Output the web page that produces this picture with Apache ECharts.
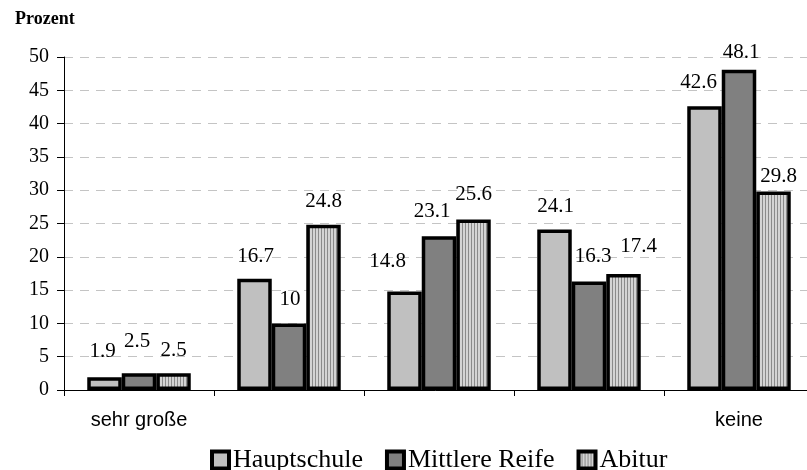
<!DOCTYPE html>
<html>
<head>
    <meta charset="utf-8">
    <title>Prozent</title>
    <script src="https://cdn.jsdelivr.net/npm/echarts@6.0.0/dist/echarts.min.js"></script>
    <style>
        html, body { margin: 0; padding: 0; background: #fff; }
        #chart { width: 807px; height: 470px; }
    </style>
</head>
<body>
<div id="chart"></div>
<script>
    // Daten
    const categories = ['sehr große', '', '', '', 'keine'];
    const seriesNames = ['Hauptschule', 'Mittlere Reife', 'Abitur'];
    const hauptschule = [1.9, 16.7, 14.8, 24.1, 42.6];
    const mittlereReife = [2.5, 10, 23.1, 16.3, 48.1];
    const abitur = [2.5, 24.8, 25.6, 17.4, 29.8];
    const yMin = 0, yMax = 50, yStep = 5;

    // Label-Verschiebungen wie im Original (Pixel)
    const labelShift = [
        [[-2, -1], [1, 2], [-17, -5], [1, 1], [-6, 1]],
        [[-2, -7], [1, 1], [-7, 0], [4, 0], [2, 7]],
        [[0, 2], [0, 1], [0, -1], [15, -3], [5, 9]]
    ];

    // Streifenmuster fuer Abitur
    const stripe = document.createElement('canvas');
    stripe.width = 3; stripe.height = 4;
    const ctx = stripe.getContext('2d');
    ctx.fillStyle = '#d4d4d4';
    ctx.fillRect(0, 0, 3, 4);
    ctx.fillStyle = '#8a8a8a';
    ctx.fillRect(0, 0, 1, 4);

    const fills = ['#c0c0c0', '#808080', { image: stripe, repeat: 'repeat' }];
    const serif = '"Liberation Serif", "Times New Roman", serif';

    function makeSeries(idx, values) {
        return {
            name: seriesNames[idx],
            type: 'bar',
            barGap: '0%',
            barCategoryGap: '31%',
            itemStyle: { color: fills[idx], borderColor: '#000', borderWidth: 3.5 },
            label: {
                show: true,
                position: 'top',
                distance: 14,
                fontFamily: serif,
                fontSize: 21,
                color: '#000'
            },
            data: values.map((v, i) => ({
                value: v,
                label: { offset: labelShift[idx][i] }
            }))
        };
    }

    const chart = echarts.init(document.getElementById('chart'));
    chart.setOption({
        animation: false,
        backgroundColor: '#fff',
        title: {
            text: 'Prozent',
            left: 10,
            top: 5,
            textStyle: { fontFamily: serif, fontSize: 18, fontWeight: 'bold', color: '#000' }
        },
        legend: {
            top: 442,
            left: 205,
            itemWidth: 17,
            itemHeight: 17,
            itemGap: 22,
            icon: 'rect',
            itemStyle: { borderColor: '#000', borderWidth: 4 },
            textStyle: { fontFamily: serif, fontSize: 26, color: '#000', padding: [0, 0, 0, -1] },
            data: seriesNames
        },
        grid: { left: 64, top: 57, bottom: 80, width: 750, containLabel: false, outerBoundsMode: 'none' },
        xAxis: {
            type: 'category',
            data: categories,
            axisLine: { lineStyle: { color: '#000', width: 1 } },
            axisTick: { show: true, alignWithLabel: false, length: 6, lineStyle: { color: '#000' } },
            axisLabel: {
                interval: 0,
                margin: 20,
                fontFamily: '"Liberation Sans", Arial, sans-serif',
                fontSize: 20,
                color: '#000'
            }
        },
        yAxis: {
            type: 'value',
            min: yMin,
            max: yMax,
            interval: yStep,
            axisLine: { show: true, lineStyle: { color: '#000', width: 1 } },
            axisTick: { show: true, length: 7, lineStyle: { color: '#000' } },
            axisLabel: { fontFamily: serif, fontSize: 20, color: '#000', margin: 15 },
            splitLine: { lineStyle: { color: '#c4c4c4', type: [9, 7], width: 1 } }
        },
        series: [
            makeSeries(0, hauptschule),
            makeSeries(1, mittlereReife),
            makeSeries(2, abitur)
        ]
    });
</script>
</body>
</html>
